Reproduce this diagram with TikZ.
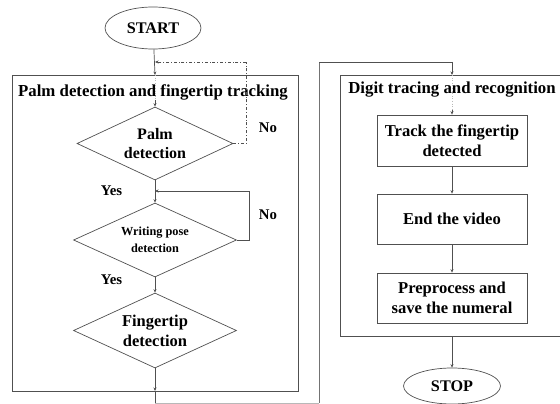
\documentclass[tikz,border=0pt]{standalone}
\usepackage{fontspec}
\setmainfont{Liberation Serif}
\usetikzlibrary{shapes.geometric,arrows.meta}
\definecolor{ln}{HTML}{505050}
\definecolor{lt}{HTML}{B8B8B8}
\tikzset{
  every node/.style={font=\bfseries},
  ln/.style={draw=ln,line width=0.7pt},
  arr/.style={ln,-{Stealth[length=3.5pt,width=3pt]}},
  dia/.style={diamond,draw=ln,line width=0.7pt,inner sep=0pt,minimum width=#1,minimum height=74pt,aspect=2.1},
  boxx/.style={rectangle,draw=ln,line width=0.7pt,minimum width=150pt,minimum height=51pt,align=center,font=\bfseries\fontsize{16.6}{20}\selectfont},
  term/.style={ellipse,draw=ln,line width=0.7pt,inner sep=0pt,font=\bfseries\fontsize{16.2}{18}\selectfont},
  lab/.style={font=\bfseries\fontsize{14.8}{16}\selectfont},
  ttl/.style={font=\bfseries\fontsize{16.8}{18}\selectfont},
}
\begin{document}
\begin{tikzpicture}[x=1pt,y=-1pt]
\useasboundingbox (0,0) rectangle (560,404);
% frames
\node[draw=ln,line width=0.7pt,minimum width=286pt,minimum height=316pt,inner sep=0pt] (lbox) at (155,233) {};
\node[draw=ln,line width=0.7pt,minimum width=223pt,minimum height=261pt,inner sep=0pt] (rbox) at (451.5,205.5) {};
\node[ttl] (ltitle) at (153,92) {Palm detection and fingertip tracking};
\node[ttl] (rtitle) at (452,90) {Digit tracing and recognition};
% terminals
\node[term,minimum width=96pt,minimum height=42pt] (start) at (153,28) {START};
\node[term,minimum width=97pt,minimum height=36pt] (stop) at (452,386) {STOP};
% diamonds
\node[dia=156pt,minimum height=73pt,align=center,font=\bfseries\fontsize{16}{18.5}\selectfont] (palm) at (155,143.5) {Palm\\detection};
\node[dia=163pt,align=center,font=\bfseries\fontsize{12.3}{16.5}\selectfont] (write) at (155,240) {Writing pose\\detection};
\node[dia=163pt,minimum height=75pt,align=center,font=\bfseries\fontsize{16.5}{20}\selectfont] (finger) at (155,330.5) {Fingertip\\detection};
% boxes
\node[boxx] (track) at (452,140.5) {Track the fingertip\\detected};
\node[boxx,minimum height=50pt] (endv) at (452,219) {End the video};
\node[boxx,minimum height=50pt] (prep) at (452,298) {Preprocess and\\save the numeral};
% coordinates
\coordinate (sIn) at (155,62);
\coordinate (p1) at (246,143.5);
\coordinate (p2) at (246,62);
\coordinate (w1) at (249,240);
\coordinate (w2) at (249,191);
\coordinate (wIn) at (155,191);
\coordinate (lb) at (155,391);
\coordinate (b1) at (155,403);
\coordinate (b2) at (319,403);
\coordinate (b3) at (319,62);
\coordinate (b4) at (452,62);
\coordinate (rb) at (452,75);
% connectors
\draw[arr] (start) -- (155,75);
\draw[lt,dotted,line width=0.6pt] (155,75) -- (155,104);
\draw[ln,-{Stealth[length=3.5pt,width=3pt]}] (155,100) -- (palm.north);
\draw[ln,dash dot,line width=0.6pt] (palm.east) -- (p1) -- (p2);
\draw[ln,dash dot,line width=0.6pt,-{Stealth[length=3.5pt,width=3pt]}] (p2) -- (sIn);
\draw[arr] (palm.south) -- (write.north);
\draw[ln] (write.east) -- (w1) -- (w2);
\draw[arr] (w2) -- (wIn);
\draw[arr] (write.south) -- (finger.north);
\draw[arr] (finger.south) -- (lb);
\draw[ln] (lb) -- (b1);
\draw[lt,line width=0.7pt] (b1) -- (b2);
\draw[draw=ln!80,line width=0.7pt] (b2) -- (b3);
\draw[ln] (b3) -- (b4);
\draw[arr] (b4) -- (rb);
\draw[lt,dotted,line width=0.6pt] (rb) -- (452,112);
\draw[ln,-{Stealth[length=3.5pt,width=3pt]}] (452,110) -- (track.north);
\draw[arr] (track) -- (endv);
\draw[arr] (endv) -- (prep);
\draw[arr] (452,336) -- (stop);
% labels
\node[lab] (no1) at (268,128) {No};
\node[lab] (no2) at (268,215) {No};
\node[lab] (yes1) at (111.5,191) {Yes};
\node[lab] (yes2) at (111.5,280) {Yes};
\end{tikzpicture}
\end{document}
